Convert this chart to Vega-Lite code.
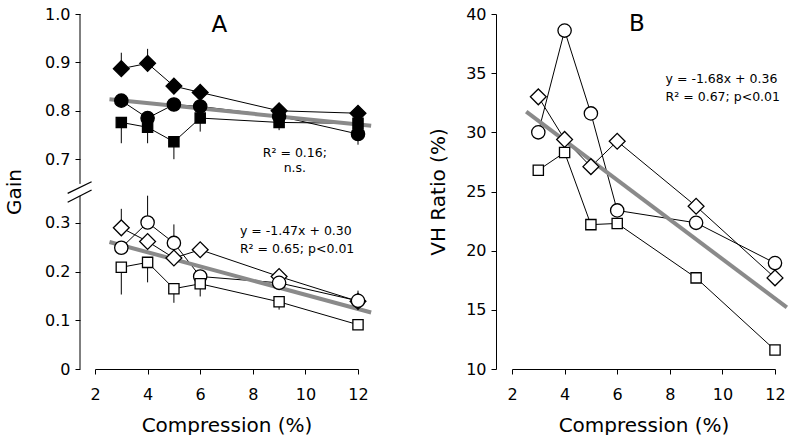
{
  "$schema": "https://vega.github.io/schema/vega-lite/v6.json",
  "autosize": {"type": "pad"},
  "padding": {"left": 4, "top": 6, "right": 0, "bottom": 0},
  "background": "white",
  "config": {
    "view": {"stroke": null},
    "font": "DejaVu Sans",
    "axis": {"grid": false, "domainColor": "black", "tickColor": "black", "labelColor": "black", "titleColor": "black", "labelFontSize": 16, "titleFontSize": 20, "titleFontWeight": "normal", "tickSize": 5, "labelFlush": false, "domainWidth": 1, "tickWidth": 1}
  },
  "datasets": {
    "gain": [
      {"series": "sD", "marker": "diamond", "fill": "solid", "x": 3, "y": 0.887, "lo": 0.887, "hi": 0.920},
      {"series": "sD", "marker": "diamond", "fill": "solid", "x": 4, "y": 0.898, "lo": 0.898, "hi": 0.928},
      {"series": "sD", "marker": "diamond", "fill": "solid", "x": 5, "y": 0.851},
      {"series": "sD", "marker": "diamond", "fill": "solid", "x": 6, "y": 0.838},
      {"series": "sD", "marker": "diamond", "fill": "solid", "x": 9, "y": 0.800},
      {"series": "sD", "marker": "diamond", "fill": "solid", "x": 12, "y": 0.795},
      {"series": "sC", "marker": "circle", "fill": "solid", "x": 3, "y": 0.821},
      {"series": "sC", "marker": "circle", "fill": "solid", "x": 4, "y": 0.785},
      {"series": "sC", "marker": "circle", "fill": "solid", "x": 5, "y": 0.813},
      {"series": "sC", "marker": "circle", "fill": "solid", "x": 6, "y": 0.809},
      {"series": "sC", "marker": "circle", "fill": "solid", "x": 9, "y": 0.789},
      {"series": "sC", "marker": "circle", "fill": "solid", "x": 12, "y": 0.752, "lo": 0.730, "hi": 0.752},
      {"series": "sS", "marker": "square", "fill": "solid", "x": 3, "y": 0.776, "lo": 0.733, "hi": 0.776},
      {"series": "sS", "marker": "square", "fill": "solid", "x": 4, "y": 0.766, "lo": 0.733, "hi": 0.766},
      {"series": "sS", "marker": "square", "fill": "solid", "x": 5, "y": 0.736, "lo": 0.700, "hi": 0.736},
      {"series": "sS", "marker": "square", "fill": "solid", "x": 6, "y": 0.785, "lo": 0.757, "hi": 0.785},
      {"series": "sS", "marker": "square", "fill": "solid", "x": 9, "y": 0.776, "lo": 0.760, "hi": 0.776},
      {"series": "sS", "marker": "square", "fill": "solid", "x": 12, "y": 0.774},
      {"series": "oD", "marker": "diamond", "fill": "open", "x": 3, "y": 0.290, "lo": 0.290, "hi": 0.329},
      {"series": "oD", "marker": "diamond", "fill": "open", "x": 4, "y": 0.262},
      {"series": "oD", "marker": "diamond", "fill": "open", "x": 5, "y": 0.228},
      {"series": "oD", "marker": "diamond", "fill": "open", "x": 6, "y": 0.245},
      {"series": "oD", "marker": "diamond", "fill": "open", "x": 9, "y": 0.190},
      {"series": "oD", "marker": "diamond", "fill": "open", "x": 12, "y": 0.139},
      {"series": "oC", "marker": "circle", "fill": "open", "x": 3, "y": 0.249},
      {"series": "oC", "marker": "circle", "fill": "open", "x": 4, "y": 0.301, "lo": 0.301, "hi": 0.356},
      {"series": "oC", "marker": "circle", "fill": "open", "x": 5, "y": 0.259, "lo": 0.259, "hi": 0.297},
      {"series": "oC", "marker": "circle", "fill": "open", "x": 6, "y": 0.190},
      {"series": "oC", "marker": "circle", "fill": "open", "x": 9, "y": 0.177},
      {"series": "oC", "marker": "circle", "fill": "open", "x": 12, "y": 0.140, "lo": 0.140, "hi": 0.161},
      {"series": "oS", "marker": "square", "fill": "open", "x": 3, "y": 0.209, "lo": 0.153, "hi": 0.209},
      {"series": "oS", "marker": "square", "fill": "open", "x": 4, "y": 0.219, "lo": 0.178, "hi": 0.219},
      {"series": "oS", "marker": "square", "fill": "open", "x": 5, "y": 0.165, "lo": 0.136, "hi": 0.165},
      {"series": "oS", "marker": "square", "fill": "open", "x": 6, "y": 0.175, "lo": 0.149, "hi": 0.175},
      {"series": "oS", "marker": "square", "fill": "open", "x": 9, "y": 0.138, "lo": 0.122, "hi": 0.138},
      {"series": "oS", "marker": "square", "fill": "open", "x": 12, "y": 0.091}
    ],
    "vh": [
      {"series": "C", "marker": "circle", "x": 3, "y": 30.0},
      {"series": "C", "marker": "circle", "x": 4, "y": 38.6},
      {"series": "C", "marker": "circle", "x": 5, "y": 31.6},
      {"series": "C", "marker": "circle", "x": 6, "y": 23.4},
      {"series": "C", "marker": "circle", "x": 9, "y": 22.35},
      {"series": "C", "marker": "circle", "x": 12, "y": 18.95},
      {"series": "D", "marker": "diamond", "x": 3, "y": 33.0},
      {"series": "D", "marker": "diamond", "x": 4, "y": 29.4},
      {"series": "D", "marker": "diamond", "x": 5, "y": 27.1},
      {"series": "D", "marker": "diamond", "x": 6, "y": 29.25},
      {"series": "D", "marker": "diamond", "x": 9, "y": 23.75},
      {"series": "D", "marker": "diamond", "x": 12, "y": 17.7},
      {"series": "S", "marker": "square", "x": 3, "y": 26.8},
      {"series": "S", "marker": "square", "x": 4, "y": 28.3},
      {"series": "S", "marker": "square", "x": 5, "y": 22.2},
      {"series": "S", "marker": "square", "x": 6, "y": 22.3},
      {"series": "S", "marker": "square", "x": 9, "y": 17.7},
      {"series": "S", "marker": "square", "x": 12, "y": 11.6}
    ],
    "fitA": [
      {"grp": "upper", "x": 2.55, "y": 0.824},
      {"grp": "upper", "x": 12.5, "y": 0.769},
      {"grp": "lower", "x": 2.55, "y": 0.261},
      {"grp": "lower", "x": 12.5, "y": 0.116}
    ],
    "fitB": [
      {"x": 2.54, "y": 31.75},
      {"x": 12.45, "y": 15.2}
    ],
    "axisA": [
      {"x": 1.43, "y": 0, "y2": 0.356},
      {"x": 1.43, "y": 0.649, "y2": 1.0}
    ],
    "breakA": [
      {"x": 0.96, "x2": 1.87, "y": 0.4156, "y2": 0.6535},
      {"x": 0.96, "x2": 1.87, "y": 0.3425, "y2": 0.4975}
    ],
    "titleA": [{"label": "A", "x": 6.73, "y": 0.962}],
    "titleB": [{"label": "B", "x": 6.75, "y": 38.53}],
    "noteAc": [
      {"label": "R² = 0.16;", "x": 9.6, "y": 0.705},
      {"label": "n.s.", "x": 9.6, "y": 0.674}
    ],
    "noteAl": [
      {"label": "y = -1.47x + 0.30", "x": 7.51, "y": 0.2753},
      {"label": "R² = 0.65; p<0.01", "x": 7.51, "y": 0.2377}
    ],
    "noteB": [
      {"label": "y = -1.68x + 0.36", "x": 7.84, "y": 34.21},
      {"label": "R² = 0.67; p<0.01", "x": 7.84, "y": 32.65}
    ]
  },
  "hconcat": [
    {
      "width": 263,
      "height": 355,
      "encoding": {
        "x": {"field": "x", "type": "quantitative", "scale": {"domain": [2, 12], "nice": false, "zero": false},
              "axis": {"values": [2, 4, 6, 8, 10, 12], "title": "Compression (%)", "labelPadding": 12, "titlePadding": 13}},
        "y": {"field": "y", "type": "quantitative",
              "scale": {"domain": [0, 0.356, 0.649, 1.0], "range": [355, 181.7, 169.9, 0], "nice": false, "zero": false},
              "axis": {"values": [0, 0.1, 0.2, 0.3, 0.7, 0.8, 0.9, 1.0], "labelExpr": "datum.value == 0 ? '0' : format(datum.value, '.1f')", "title": "Gain", "offset": 15, "domain": false, "labelPadding": 5, "titlePadding": 20}}
      },
      "layer": [
        {"data": {"name": "axisA"}, "mark": {"type": "rule", "color": "black", "strokeWidth": 1},
         "encoding": {"y2": {"field": "y2"}}},
        {"data": {"name": "breakA"}, "mark": {"type": "rule", "color": "black", "strokeWidth": 1.3},
         "encoding": {"x2": {"field": "x2"}, "y2": {"field": "y2"}}},
        {"data": {"name": "gain"}, "mark": {"type": "line", "color": "black", "strokeWidth": 1},
         "encoding": {"detail": {"field": "series"}}},
        {"data": {"name": "fitA"}, "mark": {"type": "line", "color": "#8a8a8a", "strokeWidth": 4},
         "encoding": {"detail": {"field": "grp"}}},
        {"data": {"name": "gain"}, "transform": [{"filter": "isValid(datum.lo)"}],
         "mark": {"type": "rule", "color": "black", "strokeWidth": 1},
         "encoding": {"y": {"field": "lo", "type": "quantitative"}, "y2": {"field": "hi"}}},
        {"data": {"name": "gain"}, "mark": {"type": "point", "filled": true, "stroke": "black", "strokeWidth": 1.3, "opacity": 1},
         "encoding": {
           "shape": {"field": "marker", "type": "nominal", "scale": {"domain": ["diamond", "circle", "square"], "range": ["diamond", "circle", "square"]}, "legend": null},
           "fill": {"field": "fill", "type": "nominal", "scale": {"domain": ["solid", "open"], "range": ["black", "white"]}, "legend": null},
           "size": {"field": "marker", "type": "nominal", "scale": {"domain": ["diamond", "circle", "square"], "range": [250, 105, 135]}, "legend": null}
         }},
        {"data": {"name": "titleA"}, "mark": {"type": "text", "baseline": "alphabetic", "align": "center", "fontSize": 23, "color": "black"},
         "encoding": {"text": {"field": "label"}}},
        {"data": {"name": "noteAc"}, "mark": {"type": "text", "baseline": "alphabetic", "align": "center", "fontSize": 12.5, "color": "black"},
         "encoding": {"text": {"field": "label"}}},
        {"data": {"name": "noteAl"}, "mark": {"type": "text", "baseline": "alphabetic", "align": "left", "fontSize": 12.5, "color": "black"},
         "encoding": {"text": {"field": "label"}}}
      ]
    },
    {
      "width": 263,
      "height": 355,
      "encoding": {
        "x": {"field": "x", "type": "quantitative", "scale": {"domain": [2, 12], "nice": false, "zero": false},
              "axis": {"values": [2, 4, 6, 8, 10, 12], "title": "Compression (%)", "labelPadding": 12, "titlePadding": 13}},
        "y": {"field": "y", "type": "quantitative", "scale": {"domain": [10, 40], "nice": false, "zero": false},
              "axis": {"values": [10, 15, 20, 25, 30, 35, 40], "title": "VH Ratio (%)", "offset": 16, "labelPadding": 5, "titlePadding": 17}}
      },
      "layer": [
        {"data": {"name": "vh"}, "mark": {"type": "line", "color": "black", "strokeWidth": 1},
         "encoding": {"detail": {"field": "series"}}},
        {"data": {"name": "fitB"}, "mark": {"type": "line", "color": "#8a8a8a", "strokeWidth": 4}, "encoding": {}},
        {"data": {"name": "vh"}, "mark": {"type": "point", "filled": true, "fill": "white", "stroke": "black", "strokeWidth": 1.3, "opacity": 1},
         "encoding": {
           "shape": {"field": "marker", "type": "nominal", "scale": {"domain": ["diamond", "circle", "square"], "range": ["diamond", "circle", "square"]}, "legend": null},
           "size": {"field": "marker", "type": "nominal", "scale": {"domain": ["diamond", "circle", "square"], "range": [250, 105, 135]}, "legend": null}
         }},
        {"data": {"name": "titleB"}, "mark": {"type": "text", "baseline": "alphabetic", "align": "center", "fontSize": 23, "color": "black"},
         "encoding": {"text": {"field": "label"}}},
        {"data": {"name": "noteB"}, "mark": {"type": "text", "baseline": "alphabetic", "align": "left", "fontSize": 12.5, "color": "black"},
         "encoding": {"text": {"field": "label"}}}
      ]
    }
  ],
  "spacing": 154,
  "bounds": "flush"
}
